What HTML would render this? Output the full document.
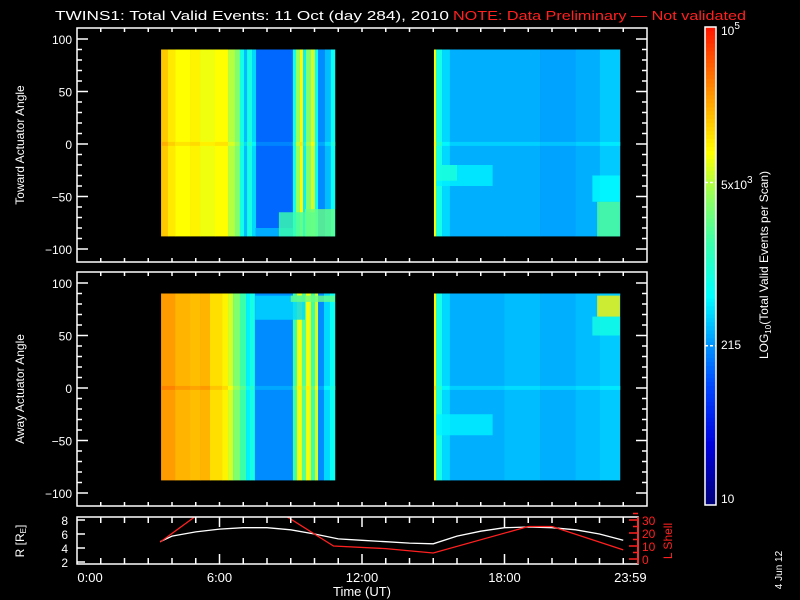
<!DOCTYPE html>
<html><head><meta charset="utf-8"><style>
html,body{margin:0;padding:0;background:#000;}
svg{display:block;font-family:"Liberation Sans",sans-serif;}
</style></head><body>
<svg id="c" width="800" height="600" viewBox="0 0 800 600">
<rect width="800" height="600" fill="#000"/>
<text x="55" y="20" fill="#fff" font-size="13" textLength="394" lengthAdjust="spacingAndGlyphs">TWINS1: Total Valid Events: 11 Oct (day 284), 2010</text>
<text x="453" y="20" fill="#ff2020" font-size="13" textLength="293" lengthAdjust="spacingAndGlyphs">NOTE: Data Preliminary — Not validated</text>
<g id="heat"></g>
<g id="axes" stroke="#fff" fill="none" stroke-width="1.5"></g>
<g id="labels" fill="#fff" font-size="12"></g>
<text transform="translate(24,145) rotate(-90)" text-anchor="middle" fill="#fff" font-size="12">Toward Actuator Angle</text>
<text transform="translate(24,389) rotate(-90)" text-anchor="middle" fill="#fff" font-size="12">Away Actuator Angle</text>
<text transform="translate(24,541) rotate(-90)" text-anchor="middle" fill="#fff" font-size="12">R [R<tspan font-size="8" dy="2">E</tspan><tspan dy="-2">]</tspan></text>
<text transform="translate(672,541) rotate(-90)" text-anchor="middle" fill="#ff2020" font-size="12">L Shell</text>
<text x="362" y="596" text-anchor="middle" fill="#fff" font-size="13">Time (UT)</text>
<text transform="translate(782,570) rotate(-90)" text-anchor="middle" fill="#fff" font-size="10">4 Jun 12</text>
<text transform="translate(768,265) rotate(-90)" text-anchor="middle" fill="#fff" font-size="12">LOG<tspan font-size="8" dy="3">10</tspan><tspan dy="-3">(Total Valid Events per Scan)</tspan></text>
</svg>
<script>
// ---- data ----
const topSeg1Times=[3.54,3.83,4.13,4.76,5.18,5.81,6.36,6.65,6.86,7.03,7.16,7.37,7.54,9.09,9.22,9.39,9.52,9.64,9.85,10.02,10.15,10.44,10.69];
const topSeg1Vals=[4.2,4.05,3.95,4.0,3.9,3.95,3.7,3.5,2.9,2.5,2.9,2.6,2.15,2.9,3.6,3.95,2.7,3.5,3.8,2.8,2.3,2.5,2.8];
const botSeg1Times=[3.54,4.13,4.76,5.18,5.6,6.11,6.36,6.57,6.86,7.12,7.28,7.49,9.09,9.26,9.47,9.64,9.85,10.02,10.15,10.4,10.65];
const botSeg1Vals=[4.4,4.3,4.25,4.3,4.1,4.0,3.8,3.5,3.2,2.7,2.9,2.3,3.2,3.9,3.3,3.9,3.2,3.8,2.3,2.6,2.8];
const seg1End=10.86;
const topSeg2Times=[15.03,15.12,15.37,15.7,18.0,19.5,21.0,22.02];
const topSeg2Vals=[3.9,2.9,2.6,2.45,2.45,2.4,2.45,2.55];
const botSeg2Times=[15.03,15.12,15.37,15.7,18.0,19.5,21.0,22.02];
const botSeg2Vals=[4.0,2.9,2.6,2.45,2.5,2.45,2.5,2.55];
const seg2End=22.86;
// patches: [t0,t1,angle0,angle1,log value]
const topPatches=[[7.5,9.1,-88,-80,2.5],[8.5,10.1,-88,-65,3.2],[9.6,10.86,-88,-62,3.4],[15.12,17.5,-40,-20,2.7],[15.12,16.0,-35,-20,2.95],[21.7,22.86,-55,-30,2.75],[21.9,22.86,-88,-55,3.3]];
const botPatches=[[7.5,9.6,65,88,2.6],[9.0,10.86,82,88,3.4],[15.12,17.5,-45,-25,2.7],[21.7,22.86,50,68,2.9],[21.9,22.86,68,88,4.0]];
const rTimes=[3.5,4,5,6,7,8,9,10,11,12,13,14,15,16,17,18,19,20,21,22,23];
const rVals=[4.9,5.7,6.3,6.7,6.9,6.9,6.6,6.0,5.3,5.1,4.9,4.7,4.6,5.7,6.4,6.9,7.0,6.9,6.6,6.0,5.1];
const lTimes=[3.5,5.0,8.8,10.8,13.0,15.0,19.0,20.0,23.0];
const lVals=[13,33,33,10,8,4.6,25,25,7];
const angleTicks=[100,50,0,-50,-100];
const timeLabels=["0:00","6:00","12:00","18:00","23:59"];
const timeLabelHours=[0.55,6,12,18,23.3];
// ---- scales ----
const NS="http://www.w3.org/2000/svg";
const X0=77,X1=647,PXH=23.75;
const xs=h=>X0+h*PXH;
const panels=[{top:28,bot:262,zero:144},{top:272,bot:506,zero:388}];
const ys=(p,a)=>p.zero-a*1.05;
const rY=v=>562-(v-2)*7;
const lY=v=>559-v*1.3;
const stops=[[1.0,[0,0,120]],[1.5,[0,0,220]],[2.0,[0,70,255]],[2.35,[0,150,255]],[2.75,[0,255,255]],[3.2,[60,255,170]],[3.6,[150,255,90]],[3.95,[255,255,0]],[4.3,[255,180,0]],[4.7,[255,90,0]],[5.0,[255,20,0]]];
function col(v){v=Math.max(1,Math.min(5,v));for(let i=1;i<stops.length;i++){if(v<=stops[i][0]){const a=stops[i-1],b=stops[i],t=(v-a[0])/(b[0]-a[0]);return `rgb(${a[1].map((c,k)=>Math.round(c+(b[1][k]-c)*t)).join(',')})`;}}return 'rgb(255,20,0)';}
function mk(tag,at,parent){const e=document.createElementNS(NS,tag);for(const k in at)e.setAttribute(k,at[k]);parent.appendChild(e);return e;}
const heat=document.getElementById('heat'),axes=document.getElementById('axes'),labels=document.getElementById('labels');
function drawCols(p,times,vals,end){for(let i=0;i<times.length;i++){const t1=i+1<times.length?times[i+1]:end;
 const r=mk('rect',{x:xs(times[i]),y:ys(p,90),width:xs(t1)-xs(times[i])+0.3,height:ys(p,-88)-ys(p,90),fill:col(vals[i])},heat);
 
 
 const z=mk('rect',{x:xs(times[i]),y:ys(p,2),width:xs(t1)-xs(times[i])+0.3,height:4,fill:col(vals[i]+0.12)},heat);
 
 }}
function drawPatches(p,list){list.forEach(q=>{const r=mk('rect',{x:xs(q[0]),y:ys(p,q[3]),width:xs(q[1])-xs(q[0]),height:ys(p,q[2])-ys(p,q[3]),fill:col(q[4]),opacity:0.8},heat);
 
 });}
drawCols(panels[0],topSeg1Times,topSeg1Vals,seg1End);drawCols(panels[0],topSeg2Times,topSeg2Vals,seg2End);drawPatches(panels[0],topPatches);
drawCols(panels[1],botSeg1Times,botSeg1Vals,seg1End);drawCols(panels[1],botSeg2Times,botSeg2Vals,seg2End);drawPatches(panels[1],botPatches);
// panel frames & ticks
panels.forEach((p,pi)=>{const f=mk('rect',{x:X0,y:p.top,width:X1-X0,height:p.bot-p.top},axes);
 
 
 for(let a=-100;a<=100;a+=10){const y=ys(p,a),L=a%50===0?11:5;mk('line',{x1:X0,y1:y,x2:X0+L,y2:y},axes);mk('line',{x1:X1,y1:y,x2:X1-L,y2:y},axes);}
 for(let h=1;h<24;h++){mk('line',{x1:xs(h),y1:p.top,x2:xs(h),y2:p.top+4},axes);mk('line',{x1:xs(h),y1:p.bot,x2:xs(h),y2:p.bot-4},axes);}
 angleTicks.forEach(a=>{const t=mk('text',{x:72,y:ys(p,a)+5,'text-anchor':'end'},labels);t.textContent=a<0?'\u2212'+(-a):a;
 
 });});
// bottom line panel
const LB={l:X0,r:638,t:517,b:564};
const bf=mk('rect',{x:LB.l,y:LB.t,width:LB.r-LB.l,height:LB.b-LB.t},axes);


mk('line',{x1:LB.r,y1:LB.t,x2:LB.r,y2:LB.b,stroke:'#ff2020'},axes);
for(let h=1;h<24;h++){const L=h%6===0?10:6;mk('line',{x1:xs(h),y1:LB.t,x2:xs(h),y2:LB.t+L},axes);mk('line',{x1:xs(h),y1:LB.b,x2:xs(h),y2:LB.b-L},axes);}
[2,4,6,8].forEach(v=>{mk('line',{x1:X0,y1:rY(v),x2:X0+8,y2:rY(v)},axes);const t=mk('text',{x:68,y:rY(v)+5,'text-anchor':'end'},labels);t.textContent=v;
 
 });
[0,10,20,30].forEach(v=>{mk('line',{x1:LB.r,y1:lY(v),x2:LB.r-9,y2:lY(v),stroke:'#ff2020'},axes);mk('line',{x1:LB.r,y1:lY(v+5),x2:LB.r-5,y2:lY(v+5),stroke:'#ff2020'},axes);const t=mk('text',{x:642,y:lY(v)+5,fill:'#ff2020'},labels);t.textContent=v;
 
 });
timeLabels.forEach((s,i)=>{const t=mk('text',{x:xs(timeLabelHours[i]),y:582,'text-anchor':'middle','font-size':13},labels);t.textContent=s;
 
 });
const cp=mk('clipPath',{id:'lc'},document.getElementById('c'));mk('rect',{x:LB.l,y:LB.t,width:LB.r-LB.l,height:LB.b-LB.t},cp);
const rl=mk('polyline',{points:rTimes.map((t,i)=>xs(t)+','+rY(rVals[i])).join(' '),fill:'none',stroke:'#fff','stroke-width':1.3,'clip-path':'url(#lc)'},heat);


const ll=mk('polyline',{points:lTimes.map((t,i)=>xs(t)+','+lY(lVals[i])).join(' '),fill:'none',stroke:'#ff2020','stroke-width':1.3,'clip-path':'url(#lc)'},heat);


// colorbar
const CB={x:705,w:11,t:27,b:505};
for(let i=0;i<120;i++){const v=1+4*i/120,y=CB.b-(CB.b-CB.t)*(i+1)/120;const r=mk('rect',{x:CB.x,y:y,width:CB.w,height:(CB.b-CB.t)/120+0.5,fill:col(v+2/120)},heat);
 
 }
const cf=mk('rect',{x:CB.x,y:CB.t,width:CB.w,height:CB.b-CB.t},axes);


const cbY=v=>CB.b-(v-1)/4*(CB.b-CB.t);
[Math.log10(5000),Math.log10(215)].forEach(d=>{mk('line',{x1:CB.x,y1:cbY(d),x2:CB.x+CB.w,y2:cbY(d),'stroke-dasharray':'3,2'},axes);});
const cbl=[[35,'10','5'],[189,'5x10','3'],[349,'215',''],[503,'10','']];
cbl.forEach(d=>{const t=mk('text',{x:721,y:d[0]},labels);t.textContent=d[1];if(d[2]){const s=mk('tspan',{dy:-6,'font-size':10},t);s.textContent=d[2];}
 
 });
</script>
</body></html>
